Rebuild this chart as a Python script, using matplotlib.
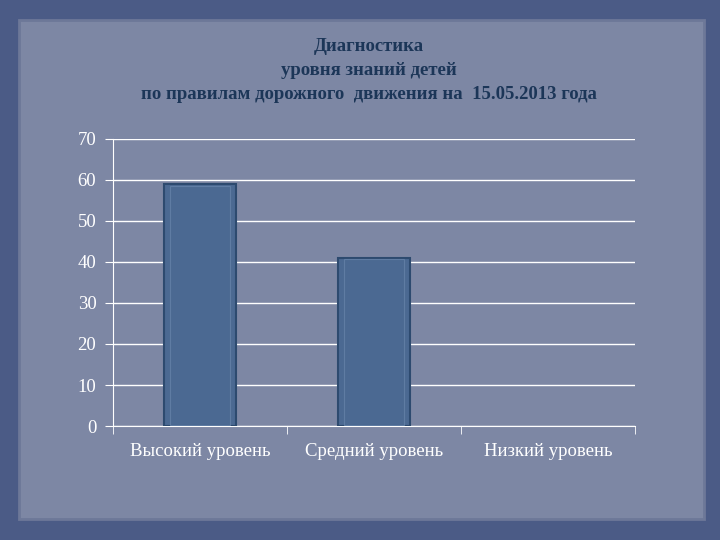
import matplotlib.pyplot as plt
import matplotlib.patches as patches
import numpy as np

# данные диагностики
categories = ['Высокий уровень', 'Средний уровень', 'Низкий уровень']
values = [59, 41, 0]
yticks = [0, 10, 20, 30, 40, 50, 60, 70]

title_lines = ['Диагностика',
               'уровня знаний детей',
               'по правилам дорожного  движения на  15.05.2013 года']

fig = plt.figure(figsize=(7.2, 5.4), dpi=100)
fig.patch.set_facecolor('#4b5b86')

# "бумага" на фоне
paper = patches.Rectangle((0.026, 0.038), 0.952, 0.925, transform=fig.transFigure,
                          facecolor='#7d87a4', edgecolor='#6d7898', lw=2, zorder=0)
fig.patches.append(paper)
# лёгкое осветление в центре
grad = np.outer(np.hanning(60), np.hanning(80))
ax_bg = fig.add_axes([0.026, 0.038, 0.952, 0.925], zorder=0)
ax_bg.imshow(grad, cmap='Greys_r', alpha=0.08, aspect='auto', extent=[0, 1, 0, 1])
ax_bg.axis('off')

ax = fig.add_axes([0.157, 0.211, 0.725, 0.532], zorder=1)
ax.patch.set_alpha(0)

x = np.arange(len(categories))
edges = ['#2d4a6f' if v > 0 else 'none' for v in values]
ax.bar(x, values, width=0.41, color='#4b6992', edgecolor=edges, lw=1.5, zorder=3)
# внутренняя рамка столбиков
inner = [v - 0.7 if v > 0 else 0 for v in values]
inner_edges = ['#5f7ca3' if v > 0 else 'none' for v in values]
ax.bar(x, inner, width=0.34, bottom=0.3, color='none', edgecolor=inner_edges, lw=0.8, zorder=4)

ax.set_xlim(-0.5, 2.5)
ax.set_ylim(0, 70)
ax.set_yticks(yticks)
ax.yaxis.grid(True, color='white', lw=1)
ax.set_axisbelow(True)

ax.set_xticks(x)
ax.set_xticklabels(categories, fontsize=13.5, color='white', family='Liberation Serif')
ax.set_xticks([-0.5, 0.5, 1.5, 2.5], minor=True)
ax.tick_params(axis='x', which='major', length=0, pad=12)
ax.tick_params(axis='x', which='minor', length=6, color='white', direction='out')
ax.tick_params(axis='y', length=6, color='white', labelcolor='white', labelsize=13.5, pad=6)
for lab in ax.get_yticklabels():
    lab.set_family('Liberation Serif')

for side in ['top', 'right']:
    ax.spines[side].set_visible(False)
ax.spines['left'].set_color('white')
ax.spines['bottom'].set_color('white')

ys = [0.913, 0.869, 0.825]
for t, yy in zip(title_lines, ys):
    fig.text(0.512, yy, t, ha='center', va='center', fontsize=13.5, fontweight='bold',
             color='#1c3658', family='Liberation Serif')

fig.savefig('out.png', dpi=100, facecolor=fig.get_facecolor())
